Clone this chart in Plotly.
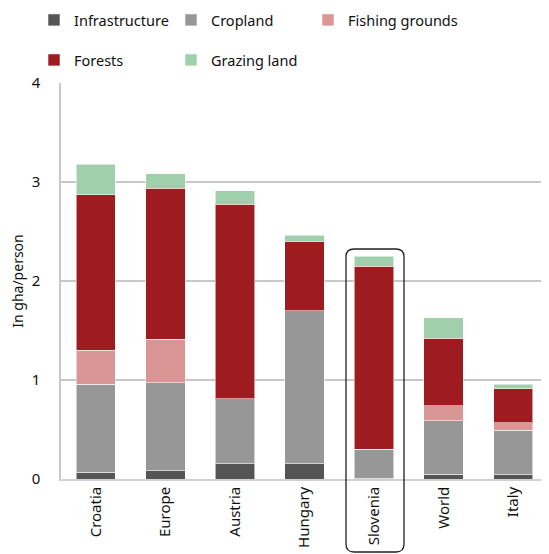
import plotly.graph_objects as go

categories = ["Croatia", "Europe", "Austria", "Hungary", "Slovenia", "World", "Italy"]
infrastructure = [0.07, 0.085, 0.155, 0.155, 0.01, 0.05, 0.045]
cropland = [0.885, 0.885, 0.655, 1.545, 0.29, 0.54, 0.45]
fishing = [0.345, 0.44, 0.0, 0.0, 0.0, 0.15, 0.075]
forests = [1.57, 1.525, 1.963, 0.70, 1.85, 0.68, 0.34]
grazing = [0.31, 0.15, 0.137, 0.06, 0.10, 0.21, 0.045]
y_ticks = [0, 1, 2, 3, 4]

W, H = 549, 554
OFF = 8  # page body margin offset
plot_left, plot_right, plot_top, plot_bottom = 61 - OFF, 548 - OFF, 83 - OFF, 479 - OFF
ml, mr, mt, mb = plot_left, W - plot_right, plot_top, H - plot_bottom
pw, ph = W - ml - mr, H - mt - mb

# name, values, colour, legend id, legend text x (px), legend row y (px)
series = [
    ("Infrastructure", infrastructure, "#545554", "legend", 74, 20),
    ("Cropland", cropland, "#979797", "legend2", 211, 20),
    ("Fishing grounds", fishing, "#da9595", "legend3", 348, 20),
    ("Forests", forests, "#9e1b20", "legend4", 74, 60),
    ("Grazing land", grazing, "#9fcfab", "legend5", 211, 60),
]

TEXT = "#111111"
fig = go.Figure()
legends = {}
for name, vals, color, lg, tx, ty in series:
    fig.add_trace(go.Bar(
        x=categories, y=vals, name=name,
        marker=dict(color=color, line=dict(color="rgba(255,255,255,0.55)", width=1)),
        legend=lg, showlegend=True,
    ))
    legends[lg] = dict(
        orientation="h", xanchor="left", yanchor="middle",
        x=(tx - OFF - 40 - ml) / pw, y=1.0 + (mt - (ty - OFF)) / ph,
        font=dict(size=14.5, color=TEXT), itemwidth=30,
        bgcolor="rgba(0,0,0,0)", borderwidth=0, visible=True,
    )

font = "Noto Sans, Open Sans, sans-serif"
fig.update_layout(
    width=W, height=H, showlegend=True,
    margin=dict(l=ml, r=mr, t=mt, b=mb, pad=0, autoexpand=False),
    barmode="stack", bargap=0.434,
    plot_bgcolor="white", paper_bgcolor="white",
    font=dict(family=font, size=14, color=TEXT),
    xaxis=dict(tickangle=-90, showline=True, linecolor="#d0d0d0", linewidth=1.5,
               ticks="", tickfont=dict(size=15, color=TEXT), showgrid=False),
    yaxis=dict(range=[0, 4], tickvals=y_ticks, showline=True, linecolor="#c8c8c8", linewidth=1.5,
               gridcolor="#c8c8c8", gridwidth=1.5, ticks="", tickfont=dict(size=15, color=TEXT),
               ticklabelstandoff=16, zeroline=False,
               title=dict(text="In gha/person", font=dict(size=14, color=TEXT), standoff=14)),
    **legends,
)

# Rounded highlight box around Slovenia (paper coords)
x0 = (346 - OFF - ml) / pw
x1 = (404 - OFF - ml) / pw
y1 = (plot_bottom - (249 - OFF)) / ph
y0 = (plot_bottom - (552 - OFF)) / ph
rx, ry = 8 / pw, 8 / ph
path = (f"M {x0+rx},{y1} L {x1-rx},{y1} Q {x1},{y1} {x1},{y1-ry} "
        f"L {x1},{y0+ry} Q {x1},{y0} {x1-rx},{y0} L {x0+rx},{y0} Q {x0},{y0} {x0},{y0+ry} "
        f"L {x0},{y1-ry} Q {x0},{y1} {x0+rx},{y1} Z")
fig.add_shape(type="path", path=path, xref="paper", yref="paper",
              line=dict(color="#231f20", width=1.3), fillcolor="rgba(0,0,0,0)", layer="above")

fig.write_html("out.html")
